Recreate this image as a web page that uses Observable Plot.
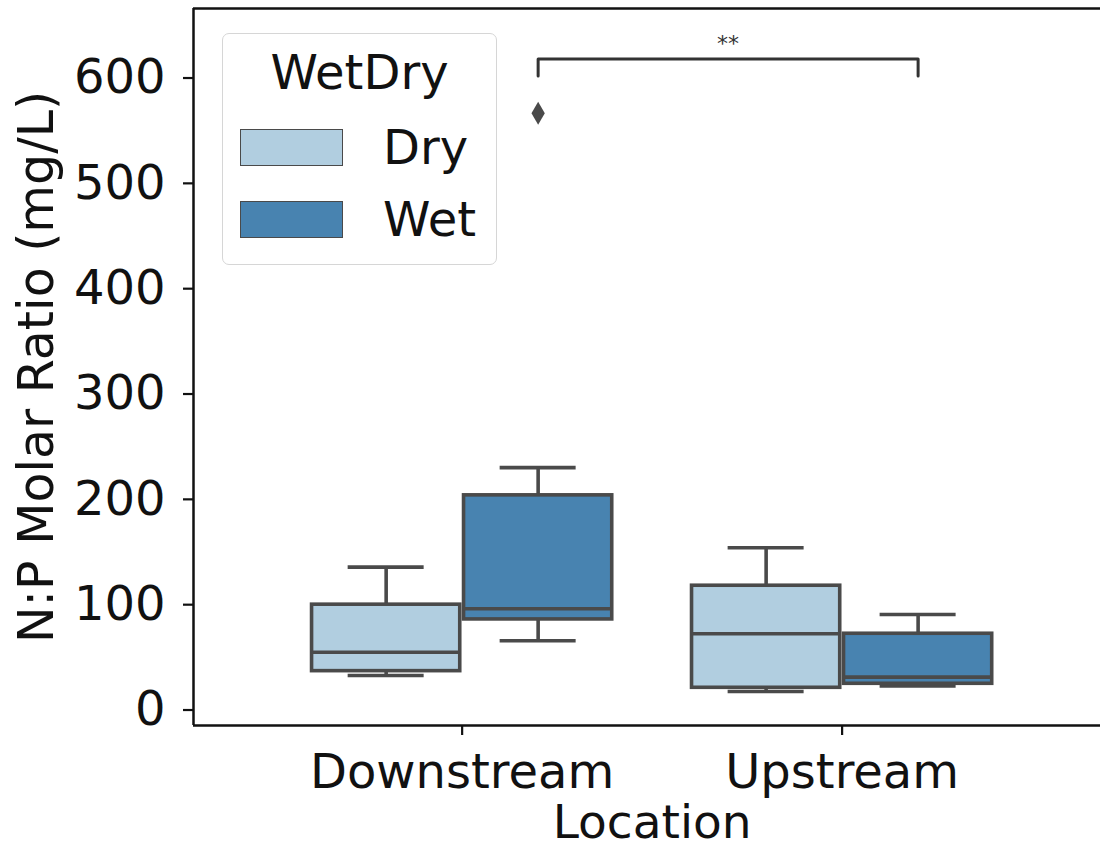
<!DOCTYPE html>
<html>
<head>
<meta charset="utf-8">
<script src="https://cdn.jsdelivr.net/npm/d3@7"></script>
<script src="https://cdn.jsdelivr.net/npm/@observablehq/plot@0.6"></script>
<style>
  html, body { margin: 0; padding: 0; background: #fff; }
  #wrap { position: relative; width: 1100px; height: 848px; font-family: "DejaVu Sans", sans-serif; color: #111; }
  #legend { position: absolute; left: 222px; top: 33px; width: 275px; height: 232px; box-sizing: border-box;
            border: 1.5px solid #d6d6d6; border-radius: 7px; background: rgba(255,255,255,0.85); }
  #legend .title { position: absolute; left: 0; width: 100%; top: 10px; text-align: center; font-size: 48px; line-height: 56px; }
  #legend .sw { position: absolute; left: 17px; width: 103px; height: 37px; box-sizing: border-box; border: 1.5px solid #4a4a4a; }
  #legend .lab { position: absolute; left: 160px; font-size: 48px; line-height: 56px; }
</style>
</head>
<body>
<div id="wrap"></div>
<script>
// ---- data ----
const categories = ["Downstream", "Upstream"];
const hues = ["Dry", "Wet"];
const hueColors = ["#b1cee0", "#4883b0"];
// per-hue statistics, one value per category (Downstream, Upstream)
const dryLow    = [32.8, 17.6];
const dryQ1     = [36.9, 21.1];
const dryMedian = [54.9, 72.4];
const dryQ3     = [100.0, 118.0];
const dryHigh   = [135.7, 154.1];
const wetLow    = [65.7, 22.8];
const wetQ1     = [86.0, 24.9];
const wetMedian = [96.2, 31.2];
const wetQ3     = [203.8, 72.4];
const wetHigh   = [230.1, 90.7];
const outlierLocation = ["Downstream"];
const outlierHue = ["Wet"];
const outlierValue = [566.5];
const yTicks = [0, 100, 200, 300, 400, 500, 600];
const yLabel = "N:P Molar Ratio (mg/L)";
const xLabel = "Location";
const legendTitle = "WetDry";
// significance annotation between (Downstream, Wet) and (Upstream, Wet)
const sigFrom = ["Downstream", "Wet"];
const sigTo = ["Upstream", "Wet"];
const sigY = 618;
const sigLeg = 16;
const sigText = "**";

// ---- layout (axis limits) ----
const xDomain = [-0.707, 1.68];
const yDomain = [-14.7, 666];
const hueOffset = {Dry: -0.2, Wet: 0.2};
const boxHalf = 0.195, capHalf = 0.1;
const edge = "#4a4a4a", ink = "#111";

const stats = {
  Dry: {low: dryLow, q1: dryQ1, med: dryMedian, q3: dryQ3, high: dryHigh},
  Wet: {low: wetLow, q1: wetQ1, med: wetMedian, q3: wetQ3, high: wetHigh}
};
const rows = [];
categories.forEach((c, i) => hues.forEach(h => {
  const s = stats[h];
  rows.push({loc: c, hue: h, pos: i + hueOffset[h], low: s.low[i], q1: s.q1[i], med: s.med[i], q3: s.q3[i], high: s.high[i]});
}));
const outliers = outlierValue.map((v, i) => ({pos: categories.indexOf(outlierLocation[i]) + hueOffset[outlierHue[i]], value: v}));
const xa = categories.indexOf(sigFrom[0]) + hueOffset[sigFrom[1]];
const xb = categories.indexOf(sigTo[0]) + hueOffset[sigTo[1]];
const bracket = [{x: xa, y: sigY - sigLeg}, {x: xa, y: sigY}, {x: xb, y: sigY}, {x: xb, y: sigY - sigLeg}];

const sw = 3.6;
const chart = Plot.plot({
  width: 1100, height: 848,
  marginLeft: 193, marginRight: 0, marginTop: 8, marginBottom: 123,
  style: {fontFamily: "DejaVu Sans, sans-serif", color: ink, background: "transparent"},
  x: {type: "linear", domain: xDomain},
  y: {domain: yDomain},
  color: {domain: hues, range: hueColors},
  marks: [
    // whiskers
    Plot.ruleX(rows, {x: "pos", y1: "q3", y2: "high", stroke: edge, strokeWidth: sw}),
    Plot.ruleX(rows, {x: "pos", y1: "low", y2: "q1", stroke: edge, strokeWidth: sw}),
    Plot.ruleY(rows, {y: "high", x1: d => d.pos - capHalf, x2: d => d.pos + capHalf, stroke: edge, strokeWidth: sw}),
    Plot.ruleY(rows, {y: "low", x1: d => d.pos - capHalf, x2: d => d.pos + capHalf, stroke: edge, strokeWidth: sw}),
    // boxes
    Plot.rect(rows, {x1: d => d.pos - boxHalf, x2: d => d.pos + boxHalf, y1: "q1", y2: "q3", fill: "hue", stroke: edge, strokeWidth: sw}),
    Plot.ruleY(rows, {y: "med", x1: d => d.pos - boxHalf, x2: d => d.pos + boxHalf, stroke: edge, strokeWidth: sw}),
    // outliers
    Plot.dot(outliers, {x: "pos", y: "value", symbol: "diamond", r: 7, fill: edge, stroke: "none"}),
    // significance bracket
    Plot.line(bracket, {x: "x", y: "y", stroke: "#333", strokeWidth: 3}),
    Plot.text([sigText], {x: [(xa + xb) / 2], y: [sigY], text: d => d, fontSize: 22, fill: "#333", lineAnchor: "middle", dy: -15}),
    // spines
    Plot.ruleX([xDomain[0]], {stroke: ink, strokeWidth: 2.5}),
    Plot.ruleY([yDomain[0], yDomain[1]], {stroke: ink, strokeWidth: 2.5}),
    // axes
    Plot.axisY({ticks: yTicks, tickSize: 10, tickPadding: 18, fontSize: 48, label: null, stroke: ink, strokeWidth: 2.2, fill: ink}),
    Plot.axisX({ticks: [0, 1], tickFormat: i => categories[i], tickSize: 10, tickPadding: 18, fontSize: 48, label: null, stroke: ink, strokeWidth: 2.2, fill: ink}),
    Plot.text([yLabel], {frameAnchor: "left", dx: -156, rotate: -90, fontSize: 49, fill: ink, lineAnchor: "middle", textAnchor: "middle"}),
    Plot.text([xLabel], {x: [0.5], frameAnchor: "bottom", dy: 97, fontSize: 47, fill: ink, lineAnchor: "middle"})
  ]
});
chart.style.position = "absolute";
chart.style.left = "0";
chart.style.top = "0";
const wrap = document.getElementById("wrap");
wrap.appendChild(chart);

// legend overlay
const lg = document.createElement("div");
lg.id = "legend";
let html = `<div class="title">${legendTitle}</div>`;
hues.forEach((h, i) => {
  const top = 95 + i * 72;
  html += `<div class="sw" style="top:${top}px;background:${hueColors[i]}"></div>`;
  html += `<div class="lab" style="top:${top - 10}px">${h}</div>`;
});
lg.innerHTML = html;
wrap.appendChild(lg);
</script>
</body>
</html>
